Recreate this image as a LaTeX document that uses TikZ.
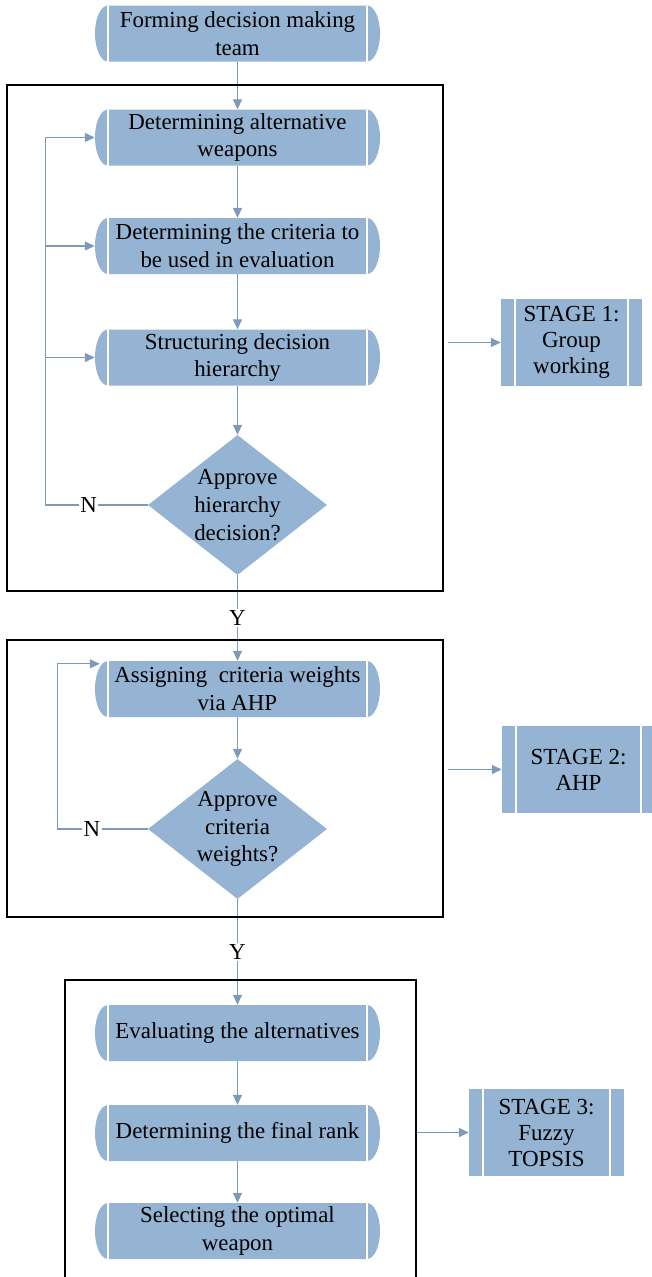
\documentclass[tikz,border=0pt]{standalone}
\usepackage{fontspec}
\setmainfont{Liberation Serif}
\usetikzlibrary{shapes.geometric,arrows.meta,calc}
\definecolor{boxfill}{RGB}{149,179,210}
\definecolor{linec}{RGB}{125,154,184}
\newcommand\myfs{\fontsize{22.9pt}{27.8pt}\selectfont}
\newcommand\stfs{\fontsize{23pt}{26pt}\selectfont}
\tikzset{
  proc/.style={minimum width=285pt, minimum height=56pt, inner sep=0pt, align=center, font=\myfs, fill=white,
    path picture={
      \fill[boxfill] ([xshift=13pt]path picture bounding box.north west) -- ([xshift=-13pt]path picture bounding box.north east)
        arc[start angle=90,end angle=-90,x radius=13pt,y radius=28pt]
        -- ([xshift=13pt]path picture bounding box.south west)
        arc[start angle=270,end angle=90,x radius=13pt,y radius=28pt] -- cycle;
      \draw[white,line width=1.3pt] ([xshift=13pt]path picture bounding box.north west) -- ([xshift=13pt]path picture bounding box.south west);
      \draw[white,line width=1.3pt] ([xshift=-13pt]path picture bounding box.north east) -- ([xshift=-13pt]path picture bounding box.south east);
    }},
  stagebox/.style={minimum width=#1, minimum height=87pt, inner sep=0pt, align=center, font=\stfs, fill=boxfill,
    path picture={
      \draw[white,line width=1.5pt] ([xshift=14pt]path picture bounding box.north west) -- ([xshift=14pt]path picture bounding box.south west);
      \draw[white,line width=1.5pt] ([xshift=-14pt]path picture bounding box.north east) -- ([xshift=-14pt]path picture bounding box.south east);
    }},
  dec/.style={diamond, fill=boxfill, minimum width=179pt, minimum height=140pt, inner sep=0pt},
  dectext/.style={align=center, font=\myfs, inner sep=0pt},
  frame/.style={draw=black, line width=1.6pt, inner sep=0pt},
  ln/.style={draw=linec, line width=1.3pt},
  arr/.style={draw=linec, line width=1.3pt, -{Triangle[length=10pt,width=9pt]}},
  lab/.style={fill=white, inner sep=1.5pt, font=\myfs},
}
\begin{document}
\begin{tikzpicture}[x=1pt,y=-1pt]
\useasboundingbox (0,0) rectangle (651,1277);

% process nodes
\node[proc] (n0) at (237.5,33.5) {Forming decision making\\team};
\node[proc] (n1) at (237.5,137.5) {Determining alternative\\weapons};
\node[proc] (n2) at (237.5,246) {Determining the criteria to\\be used in evaluation};
\node[proc] (n3) at (237.5,357.5) {Structuring decision\\hierarchy};
\node[dec] (d1) at (237.5,505) {};
\node[dectext] (d1t) at (d1) {Approve\\hierarchy\\decision?};
\node[proc] (n4) at (237.5,689) {Assigning\ \ criteria weights\\via AHP};
\node[dec] (d2) at (237.5,829) {};
\node[dectext] (d2t) at (d2) {Approve\\criteria\\weights?};
\node[proc] (n5) at (237.5,1033) {Evaluating the alternatives};
\node[proc] (n6) at (237.5,1133) {Determining the final rank};
\node[proc] (n7) at (237.5,1231) {Selecting the optimal\\weapon};

% stage nodes
\node[stagebox=141pt] (s1) at (571.5,342.5) {STAGE 1:\\Group\\working};
\node[stagebox=153pt] (s2) at (578.5,769.5) {STAGE 2:\\AHP};
\node[stagebox=155pt] (s3) at (546.5,1132.5) {STAGE 3:\\Fuzzy\\TOPSIS};

% main flow
\draw[arr] (n0) -- (n1);
\draw[arr] (n1) -- (n2);
\draw[arr] (n2) -- (n3);
\draw[arr] (n3) -- (d1);
\draw[arr] (d1) -- node[lab]{Y} (n4);
\draw[arr] (n4) -- (d2);
\draw[arr] (d2) -- node[lab]{Y} (n5);
\draw[arr] (n5) -- (n6);
\draw[arr] (n6) -- (n7);

% feedback loops
\coordinate (fb1) at ($(d1.west)+(-102,0)$);
\draw[arr] (d1.west) -- node[lab,pos=0.58]{N} (fb1) |- (n1.west);
\draw[arr] (fb1 |- n2.west) -- (n2.west);
\draw[arr] (fb1 |- n3.west) -- (n3.west);
\coordinate (fb2) at ($(d2.west)+(-90,0)$);
\draw[arr] (d2.west) -- node[lab,pos=0.62]{N} (fb2) |- ([xshift=5pt,yshift=-3pt]n4.north west);

% frames
\node[frame, minimum width=436pt, minimum height=506pt] (f1) at (225,338) {};
\node[frame, minimum width=436pt, minimum height=277pt] (f2) at (225,778.5) {};
\node[frame, minimum width=351pt, minimum height=330pt] (f3) at (240.5,1145) {};

% stage arrows
\draw[arr] ($(f1.east |- s1.west)+(4,0)$) -- (s1.west);
\draw[arr] ($(f2.east |- s2.west)+(4,0)$) -- (s2.west);
\draw[arr] (f3.east |- s3.west) -- (s3.west);
\end{tikzpicture}
\end{document}
